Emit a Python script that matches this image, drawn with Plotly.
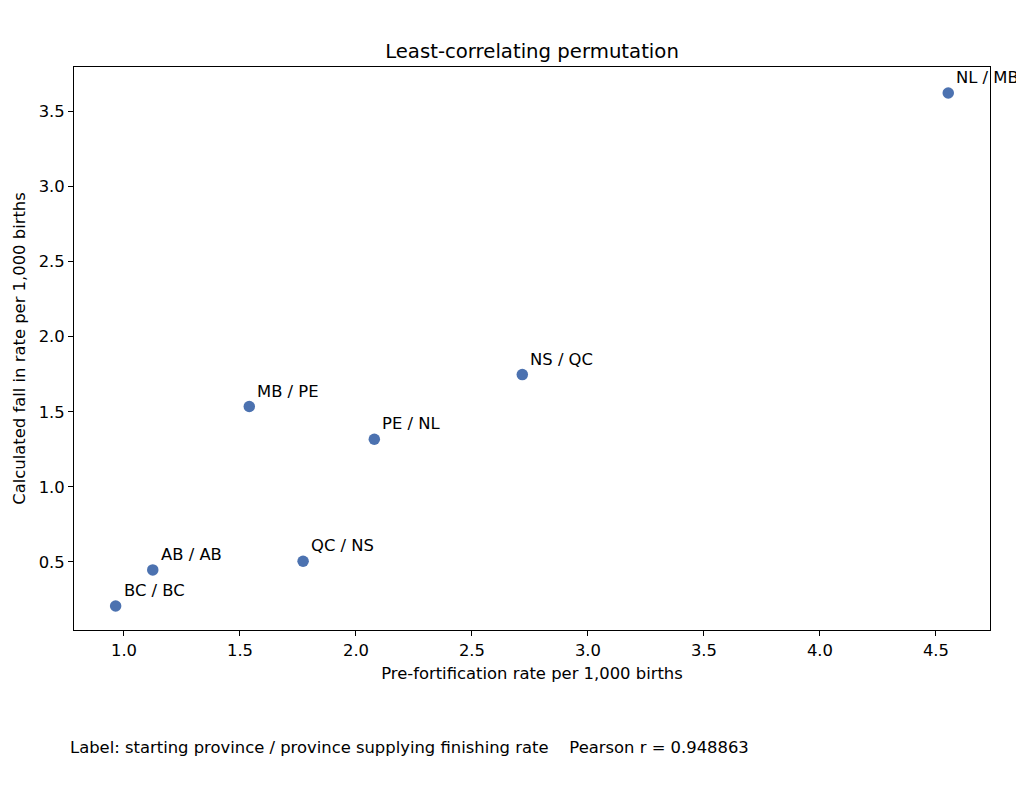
import plotly.graph_objects as go

# Least-correlating permutation: starting province / province supplying finishing rate
LABELS = ["NL / MB", "NS / QC", "MB / PE", "PE / NL", "QC / NS", "AB / AB", "BC / BC"]
PRE_RATE = [4.553, 2.717, 1.540, 2.079, 1.772, 1.124, 0.964]
FALL_RATE = [3.623, 1.748, 1.535, 1.317, 0.505, 0.447, 0.207]

PEARSON_R = 0.948863
FONT = "DejaVu Sans"
FS = 16.4

# page body has an 8px margin; keep the figure small enough that the page doesn't scroll
W, H = 1016, 775

# ================================================

fig = go.Figure()

fig.add_trace(go.Scatter(
    x=PRE_RATE, y=FALL_RATE,
    mode='markers',
    marker=dict(size=11.5, color='#4c72b0'),
    text=LABELS,
    hovertemplate='%{text}<br>Pre: %{x:.3f}<br>Fall: %{y:.3f}<extra></extra>',
    showlegend=False,
))

for lab, x, y in zip(LABELS, PRE_RATE, FALL_RATE):
    fig.add_annotation(
        x=x, y=y, text=lab, showarrow=False,
        xanchor='left', yanchor='bottom', xshift=6, yshift=4,
        font=dict(family=FONT, size=FS, color='black'),
    )

fig.add_annotation(
    xref='paper', yref='paper', x=-0.0066, y=-0.208,
    xanchor='left', yanchor='middle', showarrow=False,
    text=f"Label: starting province / province supplying finishing rate    Pearson r = {PEARSON_R:.6f}",
    font=dict(family=FONT, size=FS, color='black'),
)

axis_common = dict(
    showline=True, linecolor='black', linewidth=1, mirror=True,
    ticks='outside', ticklen=5, tickcolor='black', tickwidth=1,
    showgrid=False, zeroline=False,
    tickfont=dict(family=FONT, size=FS, color='black'),
    dtick=0.5, tickformat='.1f',
)

fig.update_layout(
    width=W, height=H,
    margin=dict(l=66, r=34, t=59, b=153),
    paper_bgcolor='white', plot_bgcolor='white',
    font=dict(family=FONT, size=FS, color='black'),
    title=dict(text='Least-correlating permutation', x=0.5, xref='paper',
               y=1 - 43 / H, yanchor='middle',
               font=dict(family=FONT, size=19.7, color='black')),
    xaxis=dict(axis_common, range=[0.7845, 4.733],
               title=dict(text='Pre-fortification rate per 1,000 births', standoff=8,
                          font=dict(family=FONT, size=FS))),
    yaxis=dict(axis_common, range=[0.047, 3.796],
               title=dict(text='Calculated fall in rate per 1,000 births', standoff=8,
                          font=dict(family=FONT, size=FS))),
    hovermode='closest',
)

fig.write_html("out.html")
print("saved out.html")
